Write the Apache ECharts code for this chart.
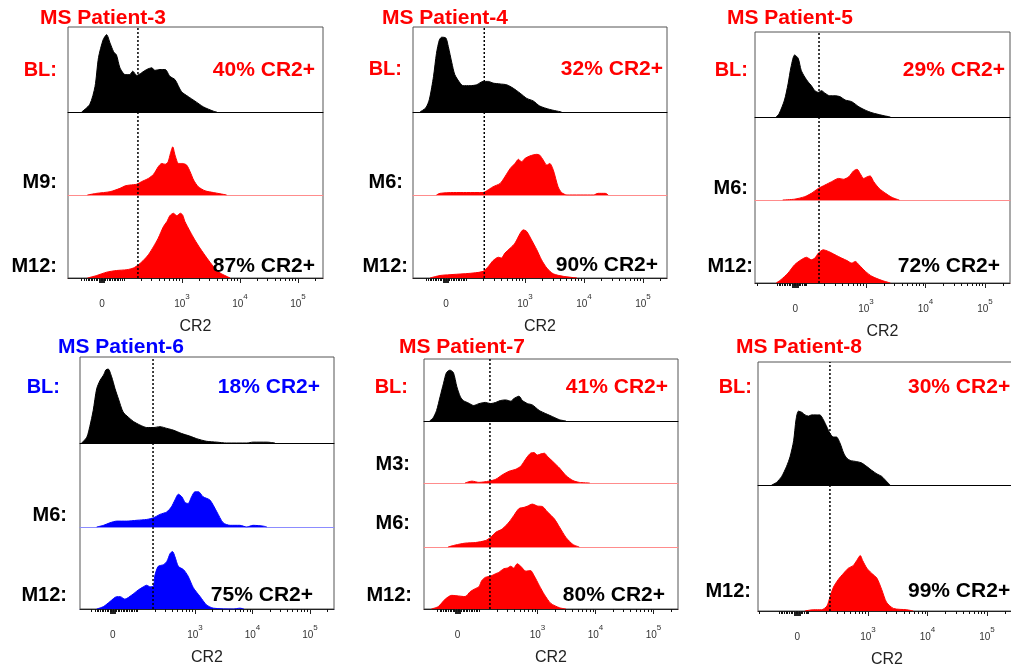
<!DOCTYPE html>
<html><head><meta charset="utf-8">
<script src="https://cdn.jsdelivr.net/npm/echarts@6/dist/echarts.min.js"></script>
<style>html,body{margin:0;padding:0;background:#fff}#c{width:1011px;height:668px}</style>
</head><body><div id="c"></div><script>
// ---------------- data ----------------
const patientNames = ['MS Patient-3','MS Patient-4','MS Patient-5','MS Patient-6','MS Patient-7','MS Patient-8'];
const laneLabels = [['BL:','M9:','M12:'],['BL:','M6:','M12:'],['BL:','M6:','M12:'],['BL:','M6:','M12:'],['BL:','M3:','M6:','M12:'],['BL:','M12:']];
const baselinePct = ['40% CR2+','32% CR2+','29% CR2+','18% CR2+','41% CR2+','30% CR2+'];
const finalPct = ['87% CR2+','90% CR2+','72% CR2+','75% CR2+','80% CR2+','99% CR2+'];
const axisTitle = 'CR2';
const tickLabels = ['0','10^3','10^4','10^5'];
const decadeTicks = [3,4,5];                       // log10 positions of 10^3, 10^4, 10^5
const zeroPos = [1.62,1.66,1.81,1.57,1.62,1.81];   // position of "0" on each panel's display scale
const gatePos = [2.24,2.31,2.21,2.27,2.18,2.36];   // CR2+ gate (dotted line)

// histograms: [display channel (decades), % of lane height]
const p3BL = [[1.27,0],[1.41,9],[1.50,30],[1.56,64],[1.64,85],[1.70,91],[1.76,81],[1.82,71],[1.87,67],[1.93,52],[2.02,44],[2.10,44],[2.15,48],[2.22,43],[2.30,46],[2.39,50],[2.48,52],[2.53,49],[2.62,50],[2.71,50],[2.79,42],[2.88,38],[2.99,24],[3.11,18],[3.22,13],[3.37,6],[3.54,1],[3.60,0]];
const p3M9 = [[1.37,0],[1.53,2],[1.76,4],[1.93,8],[2.02,11],[2.10,12],[2.22,13],[2.30,16],[2.42,20],[2.51,25],[2.59,34],[2.65,38],[2.71,37],[2.76,40],[2.80,50],[2.84,58],[2.88,48],[2.94,38],[3.01,38],[3.08,36],[3.14,28],[3.20,18],[3.28,10],[3.40,5],[3.54,3],[3.77,0]];
const p3M12 = [[1.37,0],[1.53,3],[1.70,7],[1.87,9],[2.05,10],[2.16,12],[2.25,16],[2.33,21],[2.42,28],[2.51,38],[2.59,48],[2.68,62],[2.74,68],[2.79,75],[2.85,78],[2.91,75],[2.97,78],[3.01,76],[3.05,68],[3.14,56],[3.22,46],[3.31,36],[3.43,24],[3.54,14],[3.66,6],[3.83,0]];
const p4BL = [[1.22,0],[1.32,5],[1.38,15],[1.45,42],[1.50,69],[1.55,85],[1.59,88],[1.66,87],[1.70,77],[1.76,58],[1.81,44],[1.90,34],[1.95,31],[2.07,31],[2.18,32],[2.29,36],[2.38,36],[2.46,34],[2.58,33],[2.69,32],[2.80,28],[2.92,22],[3.03,16],[3.14,13],[3.25,7],[3.42,3],[3.62,0]];
const p4M6 = [[1.50,0],[1.56,2],[1.79,3],[2.01,3],[2.29,3],[2.35,5],[2.46,10],[2.58,14],[2.66,22],[2.75,32],[2.83,38],[2.89,43],[2.94,40],[3.00,44],[3.08,47],[3.20,49],[3.25,48],[3.31,42],[3.37,36],[3.42,38],[3.48,30],[3.56,10],[3.62,3],[3.71,0],[4.16,0],[4.24,2],[4.36,2],[4.41,0]];
const p4M12 = [[1.39,0],[1.56,3],[1.73,4],[1.95,5],[2.12,6],[2.29,8],[2.38,14],[2.46,21],[2.55,25],[2.60,24],[2.66,30],[2.75,36],[2.83,42],[2.92,54],[2.97,58],[3.03,56],[3.11,46],[3.20,34],[3.28,22],[3.37,12],[3.48,5],[3.65,2],[3.88,0]];
const p5BL = [[1.49,0],[1.54,4],[1.63,20],[1.69,39],[1.74,59],[1.80,73],[1.86,69],[1.91,55],[1.97,47],[2.03,41],[2.08,37],[2.14,31],[2.20,29],[2.25,31],[2.31,28],[2.39,25],[2.48,25],[2.56,24],[2.65,20],[2.76,18],[2.88,12],[2.99,8],[3.10,5],[3.27,2],[3.41,0]];
const p5M6 = [[1.60,0],[1.80,1],[1.97,4],[2.08,8],[2.20,14],[2.31,18],[2.42,22],[2.54,26],[2.62,25],[2.71,28],[2.79,35],[2.85,37],[2.90,32],[2.96,26],[3.02,28],[3.07,29],[3.13,22],[3.22,14],[3.33,8],[3.44,3],[3.56,0]];
const p5M12 = [[1.49,0],[1.57,4],[1.69,12],[1.80,22],[1.91,28],[2.00,31],[2.08,28],[2.14,30],[2.20,36],[2.28,40],[2.37,38],[2.48,34],[2.59,30],[2.68,27],[2.76,24],[2.82,26],[2.88,22],[2.99,14],[3.10,8],[3.27,3],[3.41,0]];
const p6BL = [[1.03,0],[1.12,7],[1.17,19],[1.23,38],[1.29,63],[1.35,73],[1.41,79],[1.45,85],[1.49,86],[1.55,77],[1.61,63],[1.67,51],[1.75,36],[1.84,30],[1.93,25],[2.04,21],[2.16,18],[2.28,18],[2.39,19],[2.51,17],[2.62,15],[2.77,11],[2.91,8],[3.03,5],[3.20,2],[3.38,1],[3.55,0],[3.90,0],[4.01,1],[4.25,1],[4.39,0]];
const p6M6 = [[1.29,0],[1.41,2],[1.52,5],[1.64,7],[1.81,7],[1.99,8],[2.16,9],[2.28,11],[2.39,15],[2.51,18],[2.59,24],[2.65,32],[2.71,39],[2.77,36],[2.83,29],[2.88,28],[2.94,36],[3.00,42],[3.06,42],[3.14,36],[3.26,32],[3.38,18],[3.49,5],[3.61,2],[3.78,2],[3.90,0],[4.01,2],[4.19,1],[4.25,0]];
const p6M12 = [[1.29,0],[1.41,3],[1.52,9],[1.64,15],[1.70,15],[1.78,12],[1.90,17],[2.01,23],[2.10,27],[2.16,29],[2.22,27],[2.28,28],[2.30,40],[2.36,52],[2.45,54],[2.51,58],[2.57,68],[2.61,70],[2.65,64],[2.71,52],[2.80,48],[2.88,40],[2.97,26],[3.09,15],[3.20,5],[3.32,1],[3.67,0],[3.78,1],[3.85,0]];
const p7BL = [[1.14,0],[1.20,5],[1.26,17],[1.32,39],[1.38,61],[1.43,78],[1.49,82],[1.55,78],[1.61,55],[1.67,39],[1.72,33],[1.81,29],[1.90,25],[1.99,28],[2.10,30],[2.19,28],[2.28,30],[2.36,33],[2.45,34],[2.54,32],[2.59,36],[2.68,40],[2.74,33],[2.83,28],[2.91,26],[3.03,17],[3.14,12],[3.26,7],[3.38,2],[3.49,0]];
const p7M3 = [[1.75,0],[1.87,3],[1.99,1],[2.16,3],[2.28,6],[2.39,13],[2.51,19],[2.62,22],[2.71,27],[2.77,35],[2.83,43],[2.88,48],[2.94,49],[3.00,45],[3.06,47],[3.12,48],[3.17,43],[3.26,35],[3.38,24],[3.49,12],[3.61,4],[3.72,1],[3.90,0]];
const p7M6 = [[1.46,0],[1.58,3],[1.75,6],[1.93,7],[2.10,10],[2.19,15],[2.28,23],[2.39,28],[2.51,39],[2.59,49],[2.68,60],[2.77,62],[2.83,64],[2.91,67],[3.00,64],[3.09,63],[3.17,55],[3.29,44],[3.38,31],[3.49,15],[3.61,4],[3.72,0]];
const p7M12 = [[1.17,0],[1.29,4],[1.41,16],[1.52,22],[1.64,21],[1.75,20],[1.84,28],[1.93,33],[1.99,36],[2.04,46],[2.10,51],[2.19,53],[2.28,57],[2.33,59],[2.42,65],[2.48,66],[2.54,69],[2.59,66],[2.65,73],[2.71,69],[2.80,61],[2.88,62],[2.94,54],[3.03,38],[3.12,23],[3.23,9],[3.38,2],[3.49,0]];
const p8BL = [[1.38,0],[1.46,2],[1.55,7],[1.63,15],[1.69,23],[1.75,36],[1.79,53],[1.83,60],[1.89,59],[1.94,57],[2.00,56],[2.05,57],[2.11,57],[2.19,57],[2.25,53],[2.31,47],[2.36,42],[2.42,39],[2.47,39],[2.53,34],[2.59,26],[2.64,22],[2.70,20],[2.81,19],[2.89,18],[2.98,15],[3.06,12],[3.15,9],[3.23,7],[3.31,3],[3.37,0]];
const p8M12 = [[1.94,0],[2.08,1],[2.22,1],[2.31,4],[2.36,11],[2.42,19],[2.50,25],[2.59,30],[2.67,34],[2.75,36],[2.81,40],[2.87,44],[2.91,40],[2.98,34],[3.06,30],[3.15,26],[3.23,17],[3.31,7],[3.43,2],[3.65,1],[3.76,0]];

const curves = [[p3BL,p3M9,p3M12],[p4BL,p4M6,p4M12],[p5BL,p5M6,p5M12],[p6BL,p6M6,p6M12],[p7BL,p7M3,p7M6,p7M12],[p8BL,p8M12]];

// ---------------- layout ----------------
const RED = '#ff0000', BLUE = '#0000ff';
const layout = [
  {left:68, right:323, lanes:[27,112,195,278], min:1.034, max:5.431, neg:1.27, tx:103, ty:18, labR:[57,57,57], labY:[70,182,266], pctX:[315,315], pctY:[70,266], pctAlign:'right', accent:RED},
  {left:413, right:667, lanes:[27,112,195,278], min:1.102, max:5.407, neg:1.32, tx:445, ty:18, labR:[402,403,408], labY:[69,182,266], pctX:[663,658], pctY:[69,265], pctAlign:'right', accent:RED},
  {left:755, right:1010, lanes:[32,117,200,283], min:1.134, max:5.42, neg:1.17, tx:790, ty:18, labR:[748,748,753], labY:[70,188,266], pctX:[1005,1000], pctY:[70,266], pctAlign:'right', accent:RED},
  {left:80, right:334, lanes:[357,443,527,609], min:1.0, max:5.417, neg:1.20, tx:121, ty:347, labR:[60,67,67], labY:[387,515,595], pctX:[320,313], pctY:[387,595], pctAlign:'right', accent:BLUE},
  {left:424, right:678, lanes:[359,421,483,547,609], min:1.043, max:5.422, neg:1.28, tx:462, ty:347, labR:[408,410,410,412], labY:[387,464,523,595], pctX:[668,665], pctY:[387,595], pctAlign:'right', accent:RED},
  {left:758, right:1016, lanes:[362,485,611], min:1.151, max:5.487, neg:1.18, tx:799, ty:347, labR:[752,751], labY:[387,591], pctX:[908,908], pctY:[387,591], pctAlign:'left', accent:RED}
];
const FONT = '"Liberation Sans", Arial, Helvetica, sans-serif';

const grids = [], xAxes = [], yAxes = [], series = [], graphics = [];

function txt(x, y, text, size, color, align, weight) {
  return {type:'text', x:x, y:y, silent:true, z:50,
    style:{text:text, font:(weight||'bold')+' '+size+'px '+FONT, fill:color,
      textAlign:align, align:align, textVerticalAlign:'middle', verticalAlign:'middle'}};
}
function labelFmt(vals) {
  return function (v) {
    const i = vals.findIndex(t => Math.abs(t - v) < 1e-6);
    if (i < 0) return '';
    const s = tickLabels[i];
    if (s.indexOf('^') >= 0) { const p = s.split('^'); return '{b|' + p[0] + '}{s|' + p[1] + '}'; }
    return '{b|' + s + '}';
  };
}

layout.forEach((L, p) => {
  const z = zeroPos[p];
  const accent = L.accent;
  const baseColor = accent === BLUE ? '#8c8cff' : '#ff8c8c';
  const nL = L.lanes.length - 1;
  // lanes
  for (let k = 0; k < nL; k++) {
    const gi = grids.length;
    grids.push({left:L.left, top:L.lanes[k], width:L.right - L.left, height:L.lanes[k+1] - L.lanes[k], containLabel:false, outerBoundsMode:'none'});
    const isBL = k === 0;
    const xi = xAxes.length;
    xAxes.push({gridIndex:gi, type:'value', min:L.min, max:L.max, position:'bottom',
      axisLine:{show:true, onZero:false, lineStyle:{color: isBL ? '#000' : baseColor, width:1}},
      axisTick:{show:false}, axisLabel:{show:false}, splitLine:{show:false}});
    const yi = yAxes.length;
    yAxes.push({gridIndex:gi, type:'value', min:0, max:100, show:false, splitLine:{show:false}});
    const fill = isBL ? '#000' : accent;
    series.push({type:'line', xAxisIndex:xi, yAxisIndex:yi, data:curves[p][k], showSymbol:false, symbol:'none',
      smooth:0.25, silent:true, z:2,
      lineStyle:{color: isBL ? '#000' : fill, width:1},
      areaStyle:{color:fill, opacity:1}});
  }
  // frame with axis
  const fg = grids.length;
  grids.push({left:L.left, top:L.lanes[0], width:L.right - L.left, height:L.lanes[nL] - L.lanes[0],
    show:true, borderColor:'#555', borderWidth:1, backgroundColor:'transparent', containLabel:false, outerBoundsMode:'none'});
  const labelVals = [z].concat(decadeTicks);
  const majorTickVals = [z-0.045, z-0.03, z-0.015, z, z+0.015, z+0.03, z+0.045].concat(decadeTicks);
  const minorVals = [L.neg];
  for (let d = z - 0.3; d < 1.99; d += 0.028) minorVals.push(+d.toFixed(3));
  for (let m = 2; m <= 5; m++) for (let k = 1; k <= 9; k++) {
    const t = m + Math.log10(k);
    if (t > L.min && t < L.max && decadeTicks.indexOf(t) < 0) minorVals.push(t);
  }
  const mx = xAxes.length;
  xAxes.push({gridIndex:fg, type:'value', min:L.min, max:L.max, position:'bottom',
    axisLine:{show:true, onZero:false, lineStyle:{color:'#222', width:1}},
    axisTick:{show:true, customValues:majorTickVals, length:5, lineStyle:{color:'#222', width:1}},
    axisLabel:{show:true, customValues:labelVals, formatter:labelFmt(labelVals), margin:15,
      rich:{b:{fontSize:10, color:'#333', fontFamily:FONT, lineHeight:16, verticalAlign:'bottom'},
            s:{fontSize:8, color:'#333', fontFamily:FONT, lineHeight:16, verticalAlign:'top'}}},
    splitLine:{show:false},
    name:axisTitle, nameLocation:'middle', nameGap:41,
    nameTextStyle:{fontSize:16, color:'#222', fontFamily:FONT}});
  xAxes.push({gridIndex:fg, type:'value', min:L.min, max:L.max, position:'bottom',
    axisLine:{show:false, onZero:false}, axisLabel:{show:false}, splitLine:{show:false},
    axisTick:{show:true, customValues:minorVals, length:3, lineStyle:{color:'#111', width:1}}});
  const fy = yAxes.length;
  yAxes.push({gridIndex:fg, type:'value', min:0, max:100, show:false, splitLine:{show:false}});
  series.push({type:'line', xAxisIndex:mx, yAxisIndex:fy, data:[[gatePos[p],0],[gatePos[p],100]],
    symbol:'none', silent:true, z:10, lineStyle:{color:'#000', width:1.5, type:[2,2]}});

  // texts
  graphics.push(txt(L.tx, L.ty, patientNames[p], 21, accent, 'center'));
  laneLabels[p].forEach((lab, k) => {
    graphics.push(txt(L.labR[k], L.labY[k], lab, 20, k === 0 ? accent : '#000', 'right'));
  });
  graphics.push(txt(L.pctX[0], L.pctY[0], baselinePct[p], 21, accent, L.pctAlign));
  graphics.push(txt(L.pctX[1], L.pctY[1], finalPct[p], 21, '#000', L.pctAlign));
});

const chart = echarts.init(document.getElementById('c'), null, {renderer:'canvas'});
chart.setOption({
  animation:false, backgroundColor:'#fff',
  grid:grids, xAxis:xAxes, yAxis:yAxes, series:series, graphic:graphics
});
</script></body></html>
